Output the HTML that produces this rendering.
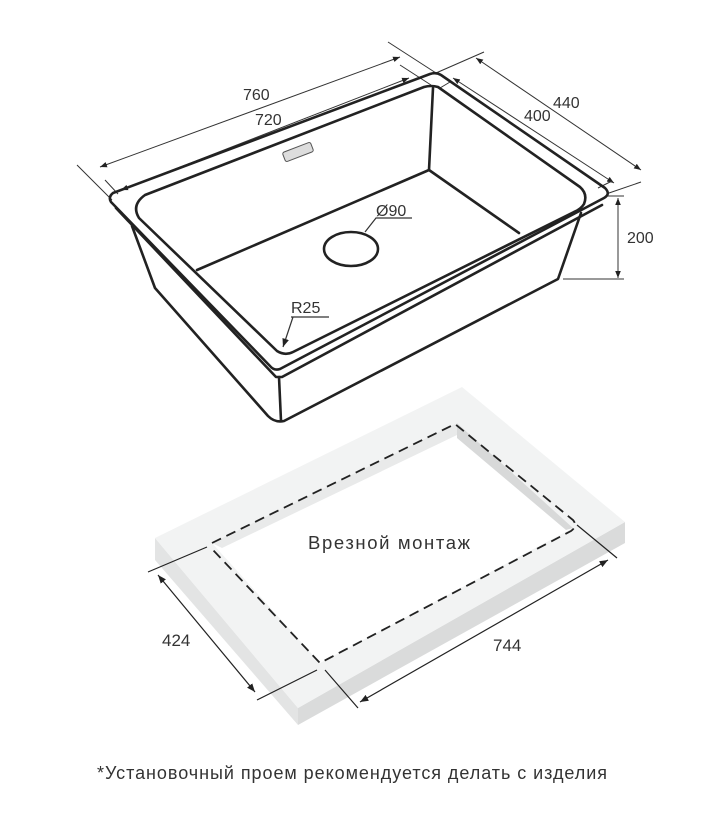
<!DOCTYPE html>
<html><head><meta charset="utf-8"><style>
html,body{margin:0;padding:0;background:#fff;}
svg{display:block;}
text{font-family:"Liberation Sans",sans-serif;fill:#333;}
</style></head><body>
<svg width="724" height="814" viewBox="0 0 724 814" xmlns="http://www.w3.org/2000/svg">
<defs>
<marker id="ar" viewBox="0 0 10 10" refX="10" refY="5" markerWidth="7" markerHeight="7" orient="auto-start-reverse"><path d="M0,1 L10,5 L0,9 z" fill="#222"/></marker>
</defs>
<rect width="724" height="814" fill="#fff"/>
<g stroke="#333" stroke-width="1" fill="none">
<line x1="100" y1="167" x2="400" y2="57" marker-end="url(#ar)" marker-start="url(#ar)"/>
<line x1="121" y1="190" x2="409" y2="78" marker-end="url(#ar)" marker-start="url(#ar)"/>
<line x1="77" y1="165" x2="112" y2="200"/>
<line x1="105" y1="180" x2="118" y2="194"/>
<line x1="388" y1="42" x2="436" y2="73"/>
<line x1="400" y1="65" x2="431" y2="85"/>
<line x1="436" y1="73" x2="484" y2="52"/>
<line x1="609" y1="193" x2="641" y2="182"/>
<line x1="476" y1="58" x2="641" y2="170" marker-end="url(#ar)" marker-start="url(#ar)"/>
<line x1="453" y1="78" x2="614" y2="183" marker-end="url(#ar)" marker-start="url(#ar)"/>
<line x1="440" y1="88" x2="450" y2="82"/>
<line x1="598" y1="188" x2="612" y2="181"/>
<line x1="608" y1="196" x2="624" y2="196"/>
<line x1="563" y1="279" x2="624" y2="279"/>
<line x1="618" y1="198" x2="618" y2="278" marker-end="url(#ar)" marker-start="url(#ar)"/>
</g>
<g stroke="#222" stroke-width="2.6" fill="none" stroke-linejoin="round" stroke-linecap="round">
<path d="M113,193 L430,74 Q436,72 441,75 L605,188 Q611,194 604,198 L280,369 Q274,371 270,366 L111,202 Q108,197 113,193 Z"/>
<path d="M116,208 L276,377 L282,377 L602,205"/>
<path d="M145,195 L424,87 Q431,85 438,87 L580,187 Q588,194 584,204 Q581,209 574,212 L293,352 Q285,356 277,351 L139,218 Q131,205 145,195 Z"/>
<line x1="433" y1="88" x2="429" y2="170"/>
<line x1="429" y1="170" x2="197" y2="270"/>
<line x1="429" y1="170" x2="519" y2="233"/>
<path d="M132,226 L155,288 L268,416 Q275,423 284,421 L558,279 L581,213"/>
<line x1="279" y1="377" x2="281" y2="421"/>
<ellipse cx="351" cy="249" rx="27" ry="17"/>
</g>
<rect x="283" y="147" width="30" height="10" rx="2" transform="rotate(-21 298 152)" fill="#ddd" stroke="#555" stroke-width="1"/>
<g stroke="#333" stroke-width="1.2" fill="none">
<polyline points="365,232 376,218 412,218"/>
<line x1="291" y1="317" x2="329" y2="317"/>
<line x1="293" y1="317" x2="283" y2="347" marker-end="url(#ar)"/>
</g>
<g font-size="16">
<text x="243" y="100">760</text>
<text x="255" y="125">720</text>
<text x="553" y="108">440</text>
<text x="524" y="121">400</text>
<text x="627" y="243">200</text>
<text x="376" y="216">Ø90</text>
<text x="291" y="313">R25</text>
</g>
<polygon points="155,538 155,560 298,725 298,708" fill="#e3e4e4"/>
<polygon points="298,708 298,725 625,543 625,522" fill="#dadbdb"/>
<polygon points="155,538 462,387 625,522 298,708" fill="#f2f3f3"/>
<polygon points="212,543 457,423 573,528 320,663" fill="#fff"/>
<polygon points="212,543 457,423 457,435 222,548" fill="#e9eaea"/>
<polygon points="457,423 457,438 566,530 573,528" fill="#d8d9d9"/>
<path d="M212,543 L455,424 L573,520 Q578,526 571,531 L320,663 L213,550" fill="none" stroke="#222" stroke-width="1.8" stroke-dasharray="10,6"/>
<g stroke="#222" stroke-width="1.2" fill="none">
<line x1="148" y1="572" x2="207" y2="547"/>
<line x1="257" y1="700" x2="317" y2="670"/>
<line x1="158" y1="575" x2="255" y2="692" marker-end="url(#ar)" marker-start="url(#ar)"/>
<line x1="325" y1="670" x2="358" y2="708"/>
<line x1="577" y1="525" x2="617" y2="558"/>
<line x1="360" y1="702" x2="608" y2="560" marker-end="url(#ar)" marker-start="url(#ar)"/>
</g>
<text x="308" y="549" font-size="18.5" textLength="162" lengthAdjust="spacing">Врезной монтаж</text>
<text x="162" y="646" font-size="17">424</text>
<text x="493" y="651" font-size="17">744</text>
<text x="97" y="779" font-size="18" textLength="510" lengthAdjust="spacing">*Установочный проем рекомендуется делать с изделия</text>
</svg>
</body></html>
